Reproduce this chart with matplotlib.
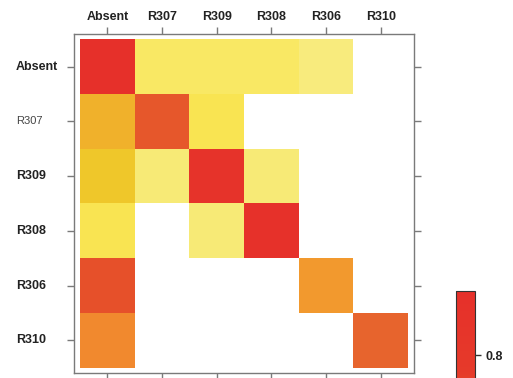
import numpy as np
import matplotlib
matplotlib.use("Agg")
import matplotlib.pyplot as plt
from matplotlib.colors import LinearSegmentedColormap
from matplotlib.transforms import blended_transform_factory

plt.rcParams["font.family"] = ["Liberation Sans", "DejaVu Sans"]

# Category labels (same order on both axes)
regions = ["Absent", "R307", "R309", "R308", "R306", "R310"]

# Matrix values (rows top->bottom, NaN = empty cell)
nan = np.nan
row_absent = [1.00, 0.08, 0.08, 0.08, 0.04, nan]
row_r307 = [0.35, 0.63, 0.12, nan, nan, nan]
row_r309 = [0.25, 0.05, 0.90, 0.05, nan, nan]
row_r308 = [0.12, nan, 0.05, 0.95, nan, nan]
row_r306 = [0.66, nan, nan, nan, 0.45, nan]
row_r310 = [0.50, nan, nan, nan, nan, 0.58]

values = np.array([row_absent, row_r307, row_r309, row_r308, row_r306, row_r310])

# only the 0.8 key label is visible in the cropped picture
key_ticks = [0.8]

cmap = LinearSegmentedColormap.from_list(
    "heat_rev",
    [(0.0, "#fff3a0"), (0.05, "#f7ea74"), (0.1, "#fbe858"), (0.25, "#efc82a"),
     (0.45, "#f39a2e"), (0.5, "#f28a2e"), (0.58, "#e8652e"), (0.66, "#e6502a"),
     (0.75, "#e63a2a"), (1.0, "#e6302a")],
)
cmap.set_bad("white")

fig = plt.figure(figsize=(5.13, 3.78), dpi=100)
ax = fig.add_axes([74 / 513, 5 / 378, 340 / 513, 339 / 378])

img = ax.imshow(np.ma.masked_invalid(values), cmap=cmap, vmin=0, vmax=1,
                aspect="auto", interpolation="nearest",
                extent=(-0.5, 5.5, 5.5, -0.5))
ax.set_xlim(-0.61, 5.61)
ax.set_ylim(5.6, -0.6)

frame_col = "#7a7a7a"
for sp in ax.spines.values():
    sp.set_color(frame_col)
    sp.set_linewidth(1.0)

ticks = np.arange(len(regions))
ax.set_xticks(ticks)
ax.set_yticks(ticks)
ax.tick_params(axis="both", which="both", direction="out", length=5,
               width=1.0, color=frame_col, labelcolor="#222222", labelsize=9)
ax.tick_params(axis="x", top=True, bottom=True, labeltop=True, labelbottom=False, pad=3)
ax.tick_params(axis="y", left=True, right=True, labelleft=False, labelright=False)
ax.set_xticklabels(regions, fontweight="bold")

# left-aligned row labels, as in the reference
trans = blended_transform_factory(fig.transFigure, ax.transData)
for i, name in enumerate(regions):
    if name == "R307":
        ax.text(16 / 513, i, name, transform=trans, ha="left", va="center",
                fontsize=8, color="#444444")
    else:
        ax.text(16 / 513, i, name, transform=trans, ha="left", va="center",
                fontsize=9, fontweight="bold", color="#222222")

# colour key, mostly below the visible area
cax = fig.add_axes([456 / 513, 1 - 611 / 378, 19 / 513, 320 / 378])
cb = fig.colorbar(img, cax=cax)
cb.outline.set_edgecolor("#333333")
cb.outline.set_linewidth(0.8)
cb.set_ticks(key_ticks)
cax.tick_params(length=4, width=1.0, color="#333333", labelsize=9, labelcolor="#222222")
for lab in cax.get_yticklabels():
    lab.set_fontweight("bold")

fig.savefig("out.png", dpi=100)
